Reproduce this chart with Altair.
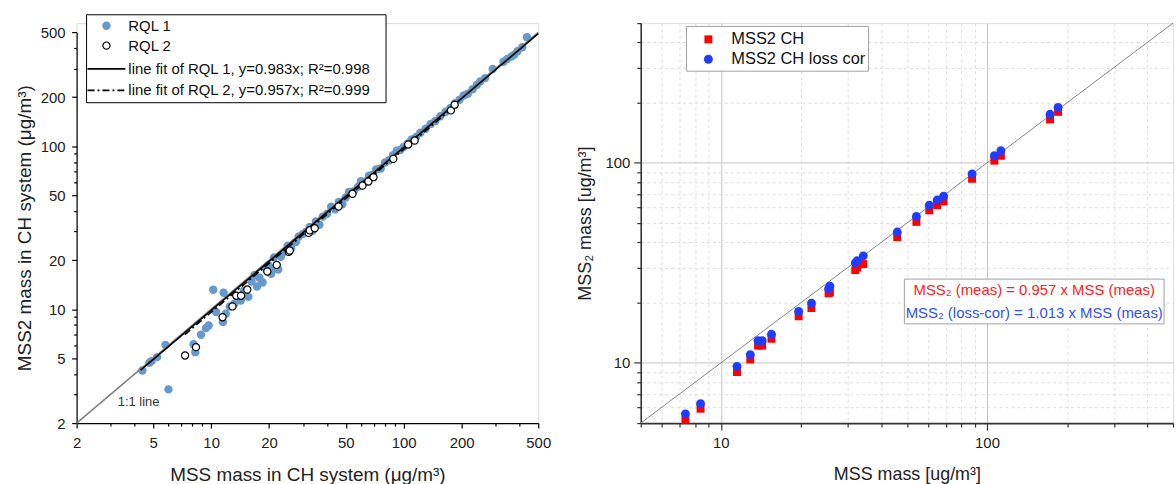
import altair as alt
import pandas as pd

FONT = "Liberation Sans"

# ---------------- Left panel data ----------------
rql1_x = [4.39, 4.78, 4.9, 5.24, 5.79, 6.0, 8.1, 8.27, 8.85, 9.4, 9.7, 10.25, 10.6, 11.5, 11.6, 11.9,
          12.5, 13.2, 14.25, 14.8, 15.6, 16.2, 16.8, 17.3, 17.8, 18.5, 19.2, 19.8, 20.5, 21.2, 21.5,
          22.3, 23.0, 24.0, 25.0, 26.0, 27.5, 28.5, 30.0, 31.0, 32.5, 33.5, 35.0, 36.5, 38.0, 40.0,
          42.0, 44.0, 46.0, 48.0, 50.0, 52.0, 55.0, 58.0, 60.0, 63.0, 66.0, 69.0, 72.0, 76.0, 80.0,
          84.0, 88.0, 92.0, 96.0, 100.0, 105.0, 110.0, 116.0, 122.0, 130.0, 138.0, 146.0, 155.0,
          165.0, 175.0, 185.0, 195.0, 205.0, 215.0, 228.0, 240.0, 250.0, 265.0, 290.0, 330.0, 345.0,
          362.0, 375.0, 390.0, 413.0, 437.0]
rql1_y = [4.21, 4.69, 4.8, 5.08, 6.04, 3.22, 6.1, 5.45, 6.96, 7.66, 7.95, 13.15, 9.6, 8.33, 12.6, 9.37,
          10.4, 10.8, 11.3, 13.0, 11.9, 14.8, 16.2, 13.8, 15.6, 14.6, 17.8, 18.6, 16.5, 20.8, 18.0,
          17.5, 21.0, 22.5, 24.5, 23.6, 25.8, 27.9, 29.0, 29.8, 32.0, 30.2, 34.5, 33.0, 37.0, 38.5,
          42.5, 41.0, 45.5, 44.0, 48.5, 52.5, 53.0, 56.5, 61.0, 60.5, 66.0, 67.0, 72.0, 73.0, 79.5,
          82.0, 88.0, 94.0, 95.0, 99.0, 104.0, 110.0, 114.0, 121.0, 128.0, 137.0, 143.0, 153.0,
          163.0, 172.0, 184.0, 193.0, 205.0, 210.0, 224.0, 238.0, 250.0, 262.0, 298.0, 330.0, 343.0,
          355.0, 365.0, 383.0, 405.0, 467.0]
rql2_x = [7.32, 8.34, 11.46, 12.9, 13.5, 14.3, 15.4, 19.57, 21.9, 25.3, 25.6, 32.1, 32.5, 34.5,
          45.9, 54.2, 61.1, 65.6, 69.7, 88.3, 105.6, 114.0, 176.0, 184.0]
rql2_y = [5.2, 5.85, 8.93, 10.4, 12.1, 12.1, 13.2, 17.05, 18.7, 22.5, 22.9, 29.4, 30.5, 31.4,
          42.7, 51.1, 57.4, 60.8, 64.6, 83.7, 102.6, 108.4, 166.0, 180.0]
fit1_x = [4.3, 500.0]
fit1_y = [4.23, 491.5]
fit2_x = [7.3, 184.0]
fit2_y = [6.99, 176.1]
diag_l = [2.0, 500.0]
ticks_l = [2, 3, 4, 5, 6, 7, 8, 9, 10, 20, 30, 40, 50, 60, 70, 80, 90, 100, 200, 300, 400, 500]

# ---------------- Right panel data ----------------
mss_x = [7.36, 8.39, 11.5, 12.9, 13.8, 14.3, 15.5, 19.6, 21.9, 25.4, 25.7, 32.0, 32.5, 34.3,
         46.0, 54.3, 60.7, 65.0, 68.7, 87.9, 106.6, 112.8, 172.6, 185.0]
mss2_ch = [5.2, 5.9, 9.0, 10.4, 12.2, 12.2, 13.2, 17.1, 18.8, 22.3, 22.5, 29.1, 30.0, 31.2,
           42.6, 50.7, 57.9, 61.5, 64.2, 83.3, 102.6, 108.6, 165.0, 180.0]
mss2_cor = [5.56, 6.25, 9.6, 11.0, 12.9, 12.9, 13.9, 18.1, 19.9, 23.5, 24.2, 31.6, 32.4, 34.3,
            45.1, 54.0, 61.4, 65.2, 68.2, 88.1, 108.6, 115.0, 175.0, 189.6]
diag_r = [5.0, 500.0]
ticks_r = [5, 6, 7, 8, 9, 10, 20, 30, 40, 50, 60, 70, 80, 90, 100, 200, 300, 400, 500]

H = 402            # both panels share this height; left y-range starts lower
TOP_L = 9.3        # left y-axis top offset inside its cell
W_L, W_R = 464, 535

one = pd.DataFrame({"d": [0]})

# ---------------- Left panel ----------------
sx_l = alt.Scale(type="log", domain=[2, 500], nice=False)
sy_l = alt.Scale(type="log", domain=[2, 500], nice=False, range=[H, TOP_L])
maj_l = "indexof([2,5,10,20,50,100,200,500], datum.value) >= 0"


def axis_l(title, lp, tp):
    return alt.Axis(title=title, values=ticks_l,
                    labelExpr=f"({maj_l}) ? format(datum.value, 'd') : ''",
                    tickSize={"condition": {"test": maj_l, "value": 5}, "value": 3},
                    labelFontSize=15, titleFontSize=19, labelFont=FONT, titleFont=FONT,
                    titleFontWeight="normal", domainColor="black", tickColor="black",
                    labelColor="#222222", titleColor="#222222", grid=False,
                    labelPadding=lp, titlePadding=tp, labelFlush=False, labelOverlap=False,
                    domainWidth=1.2, tickWidth=1.2)


ax_lx = axis_l("MSS mass in CH system (μg/m³)", 8, 15)
ax_ly = axis_l("MSS2 mass in CH system (μg/m³)", 6.5, 6)


def enc_l(ch):
    return ch.encode(x=alt.X("x:Q", scale=sx_l, axis=ax_lx), y=alt.Y("y:Q", scale=sy_l, axis=ax_ly))


blue_l = enc_l(alt.Chart(pd.DataFrame({"x": rql1_x, "y": rql1_y})).mark_circle(size=72, color="#6699CC", opacity=1))
diag_line_l = enc_l(alt.Chart(pd.DataFrame({"x": diag_l, "y": diag_l})).mark_line(color="#808080", strokeWidth=1.6))
fit1_line = enc_l(alt.Chart(pd.DataFrame({"x": fit1_x, "y": fit1_y})).mark_line(color="black", strokeWidth=1.6))
fit2_line = enc_l(alt.Chart(pd.DataFrame({"x": fit2_x, "y": fit2_y})).mark_line(color="black", strokeWidth=1.6, strokeDash=[7, 3, 2, 3]))
open_l = enc_l(alt.Chart(pd.DataFrame({"x": rql2_x, "y": rql2_y})).mark_circle(size=52, color="white", stroke="black", strokeWidth=1.2, opacity=1))
lab11 = enc_l(alt.Chart(pd.DataFrame({"x": [4.2], "y": [2.7], "t": ["1:1 line"]})).mark_text(
    font=FONT, fontSize=13, color="#333333")).encode(text="t:N")

# legend (left), pixel offsets relative to the left cell's origin
LY = TOP_L
leg_box_l = alt.Chart(one).mark_rect(fill="white", stroke="black", strokeWidth=1).encode(
    x=alt.value(10), x2=alt.value(311), y=alt.value(LY - 17.7), y2=alt.value(LY + 70.7))
leg_dot = alt.Chart(one).mark_circle(size=72, color="#6699CC", opacity=1).encode(x=alt.value(30), y=alt.value(LY - 6.7))
leg_open = alt.Chart(one).mark_circle(size=52, color="white", stroke="black", strokeWidth=1.2, opacity=1).encode(
    x=alt.value(30), y=alt.value(LY + 13.3))
leg_l1 = alt.Chart(one).mark_rule(color="black", strokeWidth=1.6).encode(
    x=alt.value(11), x2=alt.value(49), y=alt.value(LY + 36.7))
leg_l2 = alt.Chart(one).mark_rule(color="black", strokeWidth=1.6, strokeDash=[7, 3, 2, 3]).encode(
    x=alt.value(11), x2=alt.value(49), y=alt.value(LY + 58.3))


def ltxt(s, yv):
    return alt.Chart(one).mark_text(font=FONT, fontSize=15, align="left", baseline="middle", color="#111111").encode(
        x=alt.value(52), y=alt.value(LY + yv), text=alt.value(s))


left = alt.layer(
    blue_l, diag_line_l, fit1_line, fit2_line, open_l, lab11,
    leg_box_l, leg_dot, leg_open, leg_l1, leg_l2,
    ltxt("RQL 1", -6.7), ltxt("RQL 2", 13.3),
    ltxt("line fit of RQL 1, y=0.983x; R²=0.998", 36.7),
    ltxt("line fit of RQL 2, y=0.957x; R²=0.999", 58.3),
).properties(width=W_L, height=H)

# ---------------- Right panel ----------------
sx_r = alt.Scale(type="log", domain=[5, 500], nice=False)
sy_r = alt.Scale(type="log", domain=[5, 500], nice=False)
maj_r = "datum.value == 10 || datum.value == 100"


def axis_r(title, lp, tp):
    return alt.Axis(title=title, values=ticks_r,
                    labelExpr=f"({maj_r}) ? format(datum.value, 'd') : ''",
                    tickSize={"condition": {"test": maj_r, "value": 7}, "value": 4},
                    labelFontSize=15, titleFontSize=18, labelFont=FONT, titleFont=FONT,
                    titleFontWeight="normal", domainColor="#333333", tickColor="#333333",
                    labelColor="#222222", titleColor="#222222", grid=True,
                    gridColor={"condition": {"test": maj_r, "value": "#c4c4c4"}, "value": "#dedede"},
                    gridDash={"condition": {"test": maj_r, "value": []}, "value": [3, 3]},
                    gridOpacity={"condition": {"test": "datum.value == 5 || datum.value == 500", "value": 0}, "value": 1},
                    gridWidth=1, labelPadding=lp, titlePadding=tp, labelFlush=False, labelOverlap=False,
                    domainWidth=1.6, tickWidth=1.2)


ax_rx = axis_r("MSS mass [ug/m³]", 5.5, 15)
ax_ry = axis_r("MSS₂ mass [ug/m³]", 4, 10)


def enc_r(ch):
    return ch.encode(x=alt.X("x:Q", scale=sx_r, axis=ax_rx), y=alt.Y("y:Q", scale=sy_r, axis=ax_ry))


diag_line_r = enc_r(alt.Chart(pd.DataFrame({"x": diag_r, "y": diag_r})).mark_line(color="#858585", strokeWidth=1))
red_r = enc_r(alt.Chart(pd.DataFrame({"x": mss_x, "y": mss2_ch})).mark_square(size=64, color="#ff0000", opacity=1))
blue_r = enc_r(alt.Chart(pd.DataFrame({"x": mss_x, "y": mss2_cor})).mark_circle(size=80, color="#1f3dff", opacity=1))

leg_box_r = alt.Chart(one).mark_rect(fill="white", stroke="#a0a0a0", strokeWidth=1).encode(
    x=alt.value(46), x2=alt.value(229), y=alt.value(3.3), y2=alt.value(48.3))
leg_sq = alt.Chart(one).mark_square(size=64, color="#ff0000", opacity=1).encode(x=alt.value(68), y=alt.value(16.3))
leg_ci = alt.Chart(one).mark_circle(size=80, color="#1f3dff", opacity=1).encode(x=alt.value(68), y=alt.value(36.3))


def rtxt(s, yv):
    return alt.Chart(one).mark_text(font=FONT, fontSize=16.5, align="left", baseline="middle", color="#111111").encode(
        x=alt.value(91), y=alt.value(yv), text=alt.value(s))


ann_box = alt.Chart(one).mark_rect(fill="white", stroke="#a0a0a0", strokeWidth=1).encode(
    x=alt.value(265), x2=alt.value(526), y=alt.value(257.3), y2=alt.value(302.3))


def atxt(s, yv, col):
    return alt.Chart(one).mark_text(font=FONT, fontSize=15, align="center", baseline="middle", color=col).encode(
        x=alt.value(395.5), y=alt.value(yv), text=alt.value(s))


right = alt.layer(
    diag_line_r, red_r, blue_r,
    leg_box_r, leg_sq, leg_ci, rtxt("MSS2 CH", 16.3), rtxt("MSS2 CH loss cor", 36.3),
    ann_box,
    atxt("MSS₂ (meas) = 0.957 x MSS (meas)", 268.3, "#ff2020"),
    atxt("MSS₂ (loss-cor) = 1.013 x MSS (meas)", 291.3, "#3050ff"),
).properties(width=W_R, height=H)

chart = alt.hconcat(left, right, spacing=24, bounds="full").properties(
    padding={"left": 14, "top": 12, "right": 0, "bottom": 0}
).configure_view(stroke=None).configure(background="white")

chart.save("out.html", embed_options={"renderer": "svg", "actions": False})
